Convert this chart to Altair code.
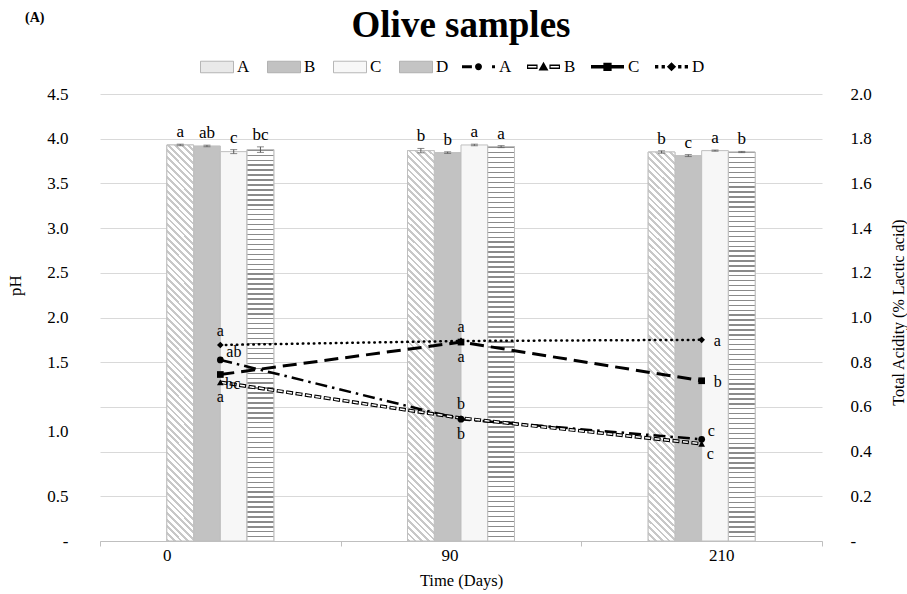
import altair as alt
import pandas as pd

# ---------------- data ----------------
days = ['0', '90', '210']
samples = ['A', 'B', 'C', 'D']

ph_A = [3.987, 3.930, 3.916]
ph_B = [3.977, 3.910, 3.880]
ph_C = [3.920, 3.987, 3.930]
ph_D = [3.940, 3.970, 3.916]
ph_err_A = [0.008, 0.022, 0.012]
ph_err_B = [0.008, 0.008, 0.010]
ph_err_C = [0.020, 0.008, 0.006]
ph_err_D = [0.028, 0.010, 0.006]
ph_let_A = ['a', 'b', 'b']
ph_let_B = ['ab', 'b', 'c']
ph_let_C = ['c', 'a', 'a']
ph_let_D = ['bc', 'a', 'b']

acid_A = [0.810, 0.545, 0.455]
acid_B = [0.710, 0.550, 0.435]
acid_C = [0.745, 0.890, 0.717]
acid_D = [0.877, 0.895, 0.900]
acid_let_A = ['ab', 'b', 'c']
acid_let_B = ['a', 'b', 'c']
acid_let_C = ['bc', 'a', 'b']
acid_let_D = ['a', 'a', 'a']
acid_pos_A = ['upright', 'below', 'upright']
acid_pos_B = ['below', 'above', 'downright']
acid_pos_C = ['downright', 'below', 'right']
acid_pos_D = ['above', 'above', 'right']

left_tick_values = [0, 0.45, 1.1, 1.8, 2.25, 2.7, 3.15, 3.6, 4.05, 4.5]
left_tick_labels = ['-', '0.5', '1.0', '1.5', '2.0', '2.5', '3.0', '3.5', '4.0', '4.5']
right_tick_values = [0, 0.2, 0.4, 0.6, 0.8, 1.0, 1.2, 1.4, 1.6, 1.8, 2.0]

# ---------------- tables ----------------
ph_mean = {'A': ph_A, 'B': ph_B, 'C': ph_C, 'D': ph_D}
ph_err = {'A': ph_err_A, 'B': ph_err_B, 'C': ph_err_C, 'D': ph_err_D}
ph_let = {'A': ph_let_A, 'B': ph_let_B, 'C': ph_let_C, 'D': ph_let_D}
rows = []
for s in samples:
    for i, d in enumerate(days):
        m, e = ph_mean[s][i], ph_err[s][i]
        rows.append({'Day': d, 'Sample': s, 'pH': m, 'lo': m - e, 'hi': m + e, 'letter': ph_let[s][i]})
bars_df = pd.DataFrame(rows)

acid = {'A': acid_A, 'B': acid_B, 'C': acid_C, 'D': acid_D}
acid_let = {'A': acid_let_A, 'B': acid_let_B, 'C': acid_let_C, 'D': acid_let_D}
acid_pos = {'A': acid_pos_A, 'B': acid_pos_B, 'C': acid_pos_C, 'D': acid_pos_D}
rows = []
for s in samples:
    for i, d in enumerate(days):
        rows.append({'Day': d, 'Series': 'L' + s, 'acid': acid[s][i], 'letter': acid_let[s][i],
                     'pos': acid_pos[s][i]})
lines_df = pd.DataFrame(rows)
series = ['L' + s for s in samples]

# ---------------- styles ----------------
FONT = 'Liberation Serif'
W_PLOT, H_PLOT = 722, 447
bar_w = 26.75
bar_h = 393.0


def stripes(n, frac, c_on, c_off):
    stops = []
    for i in range(n):
        s = i / n
        m = (i + frac) / n
        e = (i + 1) / n
        stops += [{'offset': round(s, 5), 'color': c_on}, {'offset': round(m, 5), 'color': c_on},
                  {'offset': round(m, 5), 'color': c_off}, {'offset': round(min(e, 1), 5), 'color': c_off}]
    return stops


k = (bar_w + bar_h) * bar_w / (bar_w ** 2 + bar_h ** 2)
grad_A = {'gradient': 'linear', 'x1': 0, 'y1': 1, 'x2': k, 'y2': 1 - k * bar_h / bar_w,
          'stops': stripes(63, 0.42, '#c8c8c8', '#ffffff')}
grad_D = {'gradient': 'linear', 'x1': 0, 'y1': 0, 'x2': 0, 'y2': 1,
          'stops': stripes(79, 0.28, '#8a8a8a', '#ffffff')}

# empty slots on both sides of the four bars keep each group centred in its day band
xoff_domain = ['_l1', '_l2'] + samples + ['_r1', '_r2']
x_scale = alt.Scale(domain=days, paddingInner=0, paddingOuter=0)
xoff_scale = alt.Scale(domain=xoff_domain, paddingInner=0, paddingOuter=0.5)
y_left = alt.Scale(domain=[0, 4.5], nice=False, zero=True)
y_right = alt.Scale(domain=[0, 2.0], nice=False, zero=True)

left_expr = ''
for v, l in zip(left_tick_values, left_tick_labels):
    left_expr += f"abs(datum.value - {v}) < 0.01 ? '{l}' : "
left_expr += "''"

x_axis = alt.Axis(title='Time (Days)', labels=False, tickBand='extent', tickSize=5, tickColor='#bfbfbf',
                  domainColor='#bfbfbf', titleFontSize=16.5, titleFont=FONT, titleColor='#000',
                  titleFontWeight='normal', titleY=31, titleBaseline='top', grid=False)
left_axis = alt.Axis(values=left_tick_values, labelExpr=left_expr, grid=False, ticks=False, domain=False,
                     labelFont=FONT, titleFont=FONT, labelColor='#000', titleColor='#000',
                     labelPadding=32, labelFontSize=17, title='pH', titleFontSize=17, titleFontWeight='normal',
                     titleX=-85, titleY=191, titleBaseline='middle')
right_axis = alt.Axis(orient='right', values=right_tick_values,
                      labelExpr="datum.value == 0 ? '-' : format(datum.value, '.1f')",
                      labelFont=FONT, titleFont=FONT, labelColor='#000', titleColor='#000',
                      grid=True, gridColor='#d9d9d9', ticks=False, domain=False, labelPadding=28,
                      labelFontSize=17, title='Total Acidity (% Lactic acid)', titleFontSize=16,
                      titleFontWeight='normal', titleAngle=270, titleX=76, titleY=218, titleBaseline='middle')

X = alt.X('Day:N', scale=x_scale, axis=x_axis, sort=days)
XO = alt.XOffset('Sample:N', scale=xoff_scale)

# ---------------- bars (left axis) ----------------
bar_base = alt.Chart(bars_df)
bars = bar_base.mark_bar(stroke='#bfbfbf', strokeWidth=1).encode(
    x=X, xOffset=XO,
    y=alt.Y('pH:Q', scale=y_left, axis=left_axis),
    fill=alt.Fill('Sample:N', sort=samples,
                  scale=alt.Scale(domain=samples, range=['#e9e9e9', '#c2c2c2', '#f7f7f7', '#c4c4c4']),
                  legend=alt.Legend(orient='none', legendX=100, legendY=-44, direction='horizontal',
                                    columns=4, title=None, symbolType='M-1,-0.35H1V0.35H-1Z',
                                    symbolSize=1089, symbolStrokeColor='#a6a6a6', symbolStrokeWidth=0.8,
                                    labelFontSize=17, labelFont=FONT, labelColor='#000', labelOffset=3,
                                    columnPadding=15)))
bars_A = bar_base.mark_bar(fill=grad_A, stroke='#bfbfbf', strokeWidth=1).encode(
    x=X, xOffset=XO, y=alt.Y('pH:Q', scale=y_left, axis=left_axis)
).transform_filter(alt.datum.Sample == 'A')
bars_D = bar_base.mark_bar(fill=grad_D, stroke='#bfbfbf', strokeWidth=1).encode(
    x=X, xOffset=XO, y=alt.Y('pH:Q', scale=y_left, axis=left_axis)
).transform_filter(alt.datum.Sample == 'D')
err = bar_base.mark_rule(color='#595959', strokeWidth=1).encode(
    x=X, xOffset=XO, y=alt.Y('lo:Q', scale=y_left, axis=left_axis), y2='hi:Q')
cap_lo = bar_base.mark_tick(color='#595959', size=7, thickness=1).encode(
    x=X, xOffset=XO, y=alt.Y('lo:Q', scale=y_left, axis=left_axis))
cap_hi = bar_base.mark_tick(color='#595959', size=7, thickness=1).encode(
    x=X, xOffset=XO, y=alt.Y('hi:Q', scale=y_left, axis=left_axis))
bar_letters = bar_base.mark_text(dy=-7, fontSize=17, font=FONT, color='#000', baseline='alphabetic').encode(
    x=X, xOffset=XO, y=alt.Y('hi:Q', scale=y_left, axis=left_axis), text='letter:N')

bar_group = alt.layer(bars, bars_A, bars_D, err, cap_lo, cap_hi, bar_letters)

# ---------------- lines (right axis) ----------------
line_base = alt.Chart(lines_df)
YR = alt.Y('acid:Q', scale=y_right, axis=right_axis)


def line_layer(s, **kw):
    return line_base.mark_line(**kw).encode(x=X, y=YR).transform_filter(alt.datum.Series == 'L' + s)


line_A = line_layer('A', color='black', strokeWidth=2.5, strokeDash=[12, 5, 2.5, 5])
line_B1 = line_layer('B', color='black', strokeWidth=3.6, strokeDash=[7, 2.5])
line_B2 = line_layer('B', color='white', strokeWidth=1.5, strokeDash=[5, 4.5], strokeDashOffset=-1)
line_C = line_layer('C', color='black', strokeWidth=3, strokeDash=[14, 7])
line_D = line_layer('D', color='black', strokeWidth=2.5, strokeDash=[0.5, 5], strokeCap='round')

# visible markers, one layer per series
marker_shapes = {'A': 'circle', 'B': 'triangle-up', 'C': 'square', 'D': 'diamond'}
marker_layers = []
for s in samples:
    marker_layers.append(
        line_base.mark_point(filled=True, color='black', size=45, opacity=1, shape=marker_shapes[s])
        .encode(x=X, y=YR).transform_filter(alt.datum.Series == 'L' + s))

# legend symbols: dash + marker glyphs as custom paths (the layer itself is invisible)
leg_paths = [
    'M-1,-0.09H-0.4V0.09H-1Z M-0.21,0A0.21,0.21 0 1,0 0.21,0A0.21,0.21 0 1,0 -0.21,0Z M0.82,-0.09H1V0.09H0.82Z',
    'M-1,-0.13H-0.36V0.13H-1Z M-0.93,-0.05V0.05H-0.43V-0.05Z M0,-0.3L0.3,0.22L-0.3,0.22Z M0.36,-0.13H1V0.13H0.36Z M0.43,-0.05V0.05H0.93V-0.05Z',
    'M-1,-0.1H-0.25V-0.25H0.25V-0.1H1V0.1H0.25V0.25H-0.25V0.1H-1Z',
    'M-1,-0.1H-0.8V0.1H-1Z M-0.6,-0.1H-0.4V0.1H-0.6Z M0,-0.28L0.28,0L0,0.28L-0.28,0Z M0.4,-0.1H0.6V0.1H0.4Z M0.8,-0.1H1V0.1H0.8Z',
]
legend_pts = line_base.mark_point(filled=True, color='black', size=45, opacity=0).encode(
    x=X, y=YR,
    shape=alt.Shape('Series:N', sort=series,
                    scale=alt.Scale(domain=series, range=leg_paths),
                    legend=alt.Legend(orient='none', legendX=362, legendY=-44, direction='horizontal',
                                      columns=4, title=None, symbolSize=1089, labelFontSize=17,
                                      labelFont=FONT, labelColor='#000', labelOffset=4, columnPadding=15,
                                      labelExpr='slice(datum.label, 1)', symbolFillColor='black',
                                      symbolOpacity=1, symbolStrokeWidth=0)))

placements = {
    'above': dict(dx=0, dy=-9, align='center'),
    'below': dict(dx=0, dy=20, align='center'),
    'right': dict(dx=12, dy=6, align='left'),
    'upright': dict(dx=6, dy=-3, align='left'),
    'downright': dict(dx=5, dy=15, align='left'),
}
letter_layers = []
for p, kw in placements.items():
    letter_layers.append(
        line_base.mark_text(fontSize=16, font=FONT, color='#000', baseline='alphabetic', **kw).encode(
            x=X, y=YR, text='letter:N').transform_filter(alt.datum.pos == p))

line_group = alt.layer(line_A, line_B1, line_B2, line_C, line_D, *marker_layers, legend_pts, *letter_layers)

# ---------------- x tick labels (hand-placed in the original, shifted from band centres) ----------------
day_df = pd.DataFrame({'Day': days})
x_label_shift = {'0': -53, '90': -11, '210': 20}
x_label_layers = []
for d in days:
    x_label_layers.append(
        alt.Chart(day_df).mark_text(fontSize=17, font=FONT, color='#000', baseline='top', dx=x_label_shift[d])
        .encode(x=X, y=alt.value(H_PLOT + 7), text='Day:N').transform_filter(alt.datum.Day == d))

panel_label = alt.Chart(pd.DataFrame({'t': ['(A)']})).mark_text(
    fontWeight='bold', fontSize=14, font=FONT, align='left', baseline='middle', color='#000').encode(
    x=alt.value(-75), y=alt.value(-76), text='t:N')
title_mark = alt.Chart(pd.DataFrame({'t': ['Olive samples']})).mark_text(
    fontWeight='bold', fontSize=37, font=FONT, align='center', baseline='alphabetic', color='#000').encode(
    x=alt.value(W_PLOT / 2), y=alt.value(-57), text='t:N')

chart = alt.layer(bar_group, line_group, *x_label_layers, panel_label, title_mark).resolve_scale(
    y='independent').properties(
    width=W_PLOT, height=H_PLOT,
    autosize=alt.AutoSizeParams(type='none'),
    padding={'left': 100, 'top': 94, 'right': 85, 'bottom': 53},
).configure(font=FONT).configure_view(strokeWidth=0).configure_axis(
    labelFont=FONT, titleFont=FONT, labelColor='#000', titleColor='#000')

chart.save('out.html', embed_options={'renderer': 'svg', 'actions': False})
